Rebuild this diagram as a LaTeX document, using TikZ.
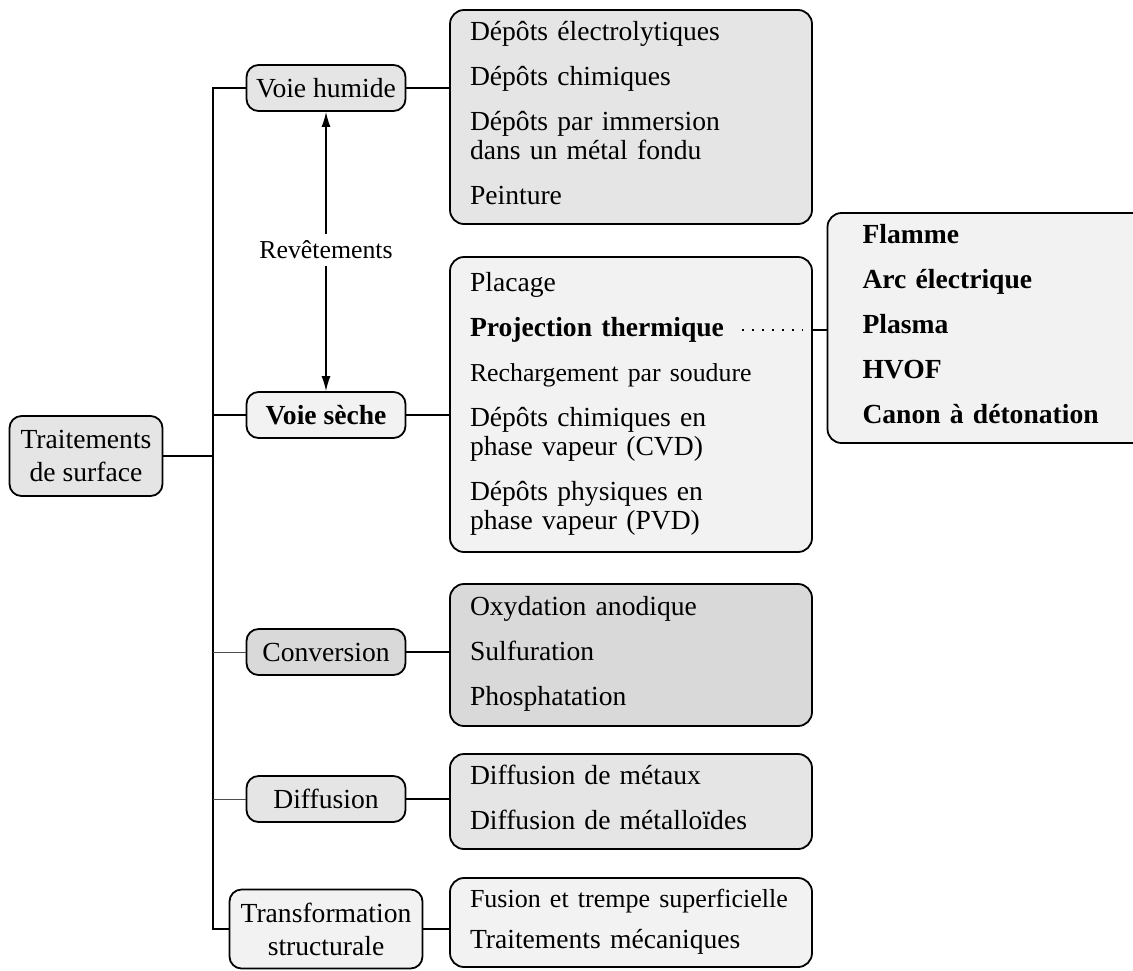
\documentclass[tikz,border=0pt]{standalone}
\usepackage{fontspec}
\setmainfont{Liberation Serif}
\usetikzlibrary{arrows.meta}
\definecolor{grisA}{gray}{0.9}
\definecolor{grisB}{gray}{0.95}
\definecolor{grisC}{gray}{0.85}
\begin{document}
\begin{tikzpicture}[x=0.5pt,y=-0.5pt,
    font=\fontsize{13.8}{14.5}\selectfont,
    famille/.style={draw,line width=0.9pt,rounded corners=6pt,align=center,
        minimum width=79.5pt,minimum height=23pt,inner sep=2pt,
        font=\fontsize{13.8}{16.5}\selectfont},
    liste/.style={draw,line width=0.9pt,rounded corners=7pt,align=left,
        text width=161pt,inner xsep=10pt,inner ysep=0pt,
        execute at begin node=\strut,execute at end node=\strut},
    lien/.style={line width=0.8pt},
    lienfin/.style={line width=0.5pt,black!70},
    fleche/.style={line width=0.7pt,-{Latex[length=7.5pt,width=4.5pt]}},
    pointille/.style={line width=0.8pt,dash pattern=on 0.8pt off 4.2pt}]
    \useasboundingbox (0,0) rectangle (1133,970);
    \def\trunkx{213}
    \coordinate (trunk) at (\trunkx,0);

    % racine
    \node[famille,fill=grisA,minimum width=76.5pt,minimum height=40pt] (traitements) at (86,456) {Traitements\\de surface};

    % familles
    \node[famille,fill=grisA] (vh) at (326,88) {Voie humide};
    \node[famille,fill=grisB,font=\fontsize{13.8}{16.5}\selectfont\bfseries] (vs) at (326,415) {Voie sèche};
    \node[famille,fill=grisC] (conv) at (326,652) {Conversion};
    \node[famille,fill=grisA] (diff) at (326,799) {Diffusion};
    \node[famille,fill=grisB,minimum width=96.5pt,minimum height=39.5pt] (transf) at (326,929) {Transformation\\structurale};

    % revetements
    \node[font=\fontsize{12.9}{14}\selectfont] (rev) at (326,250) {Revêtements};
    \draw[fleche] (rev) -- (vh);
    \draw[fleche] (rev) -- (vs);

    % listes
    \node[liste,fill=grisA,minimum height=107pt] (vhlist) at (631,117) {Dépôts électrolytiques\\[8pt]
        Dépôts chimiques\\[8pt]
        Dépôts par immersion\\dans un métal fondu\\[8pt]
        Peinture};
    \node[liste,fill=grisB,minimum height=147.5pt] (vslist) at (631,404.5) {Placage\\[8pt]
        \textbf{Projection thermique}\\[8pt]
        {\fontsize{12.9}{14.5}\selectfont Rechargement par soudure}\\[8pt]
        Dépôts chimiques en\\phase vapeur (CVD)\\[8pt]
        Dépôts physiques en\\phase vapeur (PVD)};
    \node[liste,fill=grisB,text width=126pt,inner xsep=17.5pt,minimum height=115pt,font=\fontsize{13.8}{14.5}\selectfont\bfseries] (ptlist) at (988.5,328) {Flamme\\[8pt]
        Arc électrique\\[8pt]
        Plasma\\[8pt]
        HVOF\\[8pt]
        Canon à détonation};
    \node[liste,fill=grisC,minimum height=71pt] (convlist) at (631,655) {Oxydation anodique\\[8pt]
        Sulfuration\\[8pt]
        Phosphatation};
    \node[liste,fill=grisA,minimum height=47.5pt] (difflist) at (631,801.5) {Diffusion de métaux\\[8pt]
        Diffusion de métalloïdes};
    \node[liste,fill=grisB,minimum height=44.5pt] (transflist) at (631,922.5) {\mbox{\fontsize{13}{14.5}\selectfont Fusion et trempe superficielle}\\[6pt]
        Traitements mécaniques};

    % tronc
    \draw[lien] (vh.west) -- (vh.west -| trunk) |- (transf.west);
    \draw[lien] (traitements.east) -- (traitements.east -| trunk);
    \draw[lien] (vs.west) -- (vs.west -| trunk);
    \draw[lienfin] (conv.west) -- (conv.west -| trunk);
    \draw[lienfin] (diff.west) -- (diff.west -| trunk);

    % familles vers listes
    \draw[lien] (vh.east) -- (vh.east -| vhlist.west);
    \draw[lien] (vs.east) -- (vs.east -| vslist.west);
    \draw[lien] (conv.east) -- (conv.east -| convlist.west);
    \draw[lien] (diff.east) -- (diff.east -| difflist.west);
    \draw[lien] (transf.east) -- (transf.east -| transflist.west);

    % projection thermique
    \coordinate (pt) at (742,330);
    \draw[pointille] (pt) -- ([xshift=-5pt]pt -| vslist.east);
    \draw[lien] (pt -| vslist.east) -- (pt -| ptlist.west);
\end{tikzpicture}
\end{document}
